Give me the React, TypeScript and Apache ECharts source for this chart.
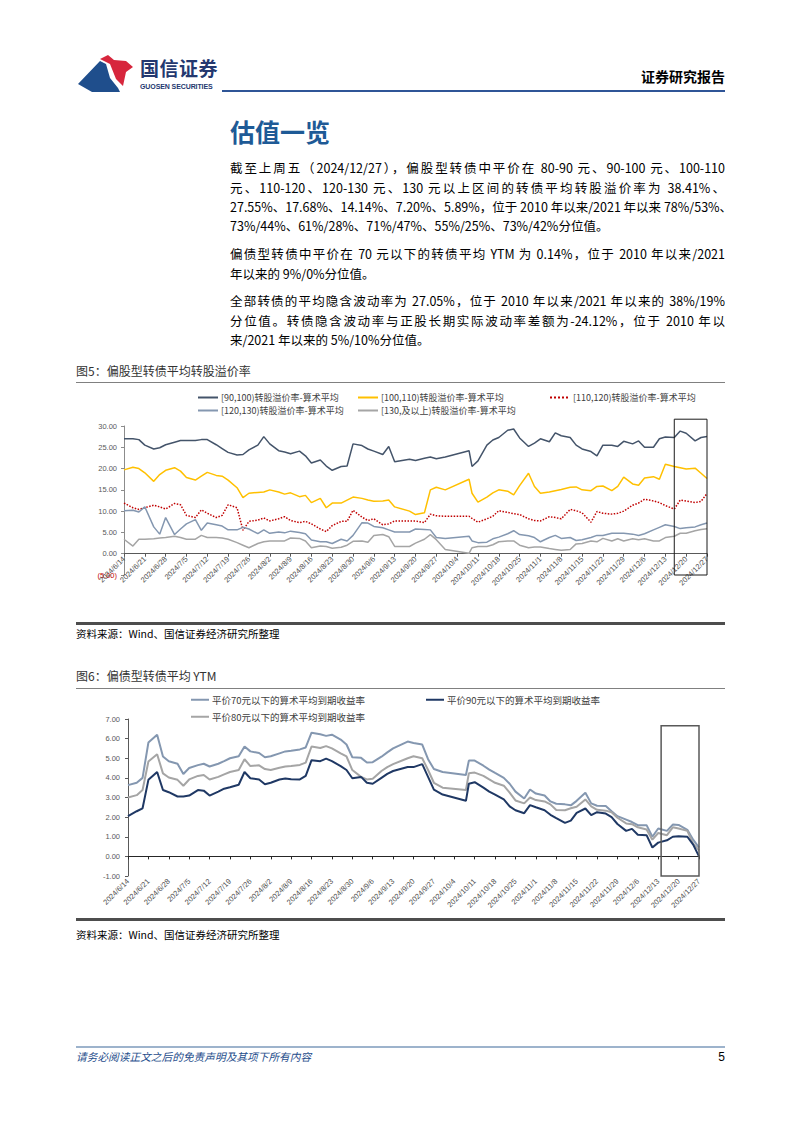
import React, { useEffect, useRef } from "react";
import * as echarts from "echarts";

// ---------- DATA ----------
const sampleDates = [
  "2024/6/14", "2024/6/17", "2024/6/19", "2024/6/21", "2024/6/24", "2024/6/26", "2024/6/28",
  "2024/7/1", "2024/7/3", "2024/7/5", "2024/7/8", "2024/7/10", "2024/7/12", "2024/7/15",
  "2024/7/17", "2024/7/19", "2024/7/22", "2024/7/24", "2024/7/26", "2024/7/29", "2024/7/31",
  "2024/8/2", "2024/8/5", "2024/8/7", "2024/8/9", "2024/8/12", "2024/8/14", "2024/8/16",
  "2024/8/19", "2024/8/21", "2024/8/23", "2024/8/26", "2024/8/28", "2024/8/30", "2024/9/2",
  "2024/9/4", "2024/9/6", "2024/9/9", "2024/9/11", "2024/9/13", "2024/9/18", "2024/9/20",
  "2024/9/23", "2024/9/25", "2024/9/27", "2024/9/30", "2024/10/8", "2024/10/9", "2024/10/11",
  "2024/10/14", "2024/10/16", "2024/10/18", "2024/10/21", "2024/10/23", "2024/10/25", "2024/10/28",
  "2024/10/30", "2024/11/1", "2024/11/4", "2024/11/6", "2024/11/8", "2024/11/11", "2024/11/13",
  "2024/11/15", "2024/11/18", "2024/11/20", "2024/11/22", "2024/11/25", "2024/11/27", "2024/11/29",
  "2024/12/2", "2024/12/4", "2024/12/6", "2024/12/9", "2024/12/11", "2024/12/13", "2024/12/16",
  "2024/12/18", "2024/12/20", "2024/12/23", "2024/12/25", "2024/12/27",
];

const prem90to100 = [
  27.0, 27.0, 26.8, 25.5, 24.6, 24.9, 25.6, 26.2, 26.6, 26.6,
  26.6, 26.8, 26.8, 25.6, 24.7, 23.8, 23.2, 23.3, 24.4, 25.5,
  27.5, 25.8, 24.2, 23.9, 23.5, 24.1, 23.0, 21.3, 22.0, 20.6,
  19.6, 20.5, 20.6, 25.8, 25.4, 24.6, 24.1, 23.3, 25.2, 21.6,
  22.2, 21.9, 22.4, 22.7, 22.3, 22.7, 24.2, 20.5, 21.8, 25.5,
  26.7, 27.3, 29.0, 29.3, 27.2, 25.2, 26.0, 27.0, 26.3, 28.4,
  27.7, 27.3, 25.5, 24.6, 24.0, 23.0, 25.5, 25.5, 25.2, 26.4,
  25.8, 26.5, 25.0, 25.0, 27.0, 27.4, 27.3, 28.8, 28.3, 26.5,
  27.3, 27.55,
];
const prem100to110 = [
  19.7, 20.3, 20.0, 19.0, 17.0, 18.6, 19.6, 20.2, 19.4, 17.9,
  17.3, 18.2, 19.1, 18.4, 18.2, 17.3, 15.5, 13.2, 14.2, 14.4,
  14.5, 15.0, 14.5, 14.0, 14.3, 13.4, 13.7, 12.0, 13.0, 10.8,
  11.9, 11.9, 12.6, 13.3, 13.0, 12.6, 12.3, 12.4, 12.6, 11.0,
  10.0, 9.2, 9.6, 15.0, 15.6, 15.0, 17.5, 14.2, 12.1, 13.3,
  14.3, 15.0, 14.7, 13.8, 16.0, 18.9, 15.8, 14.2, 14.5, 14.8,
  15.1, 15.6, 15.7, 15.0, 14.8, 15.8, 15.9, 14.8, 15.8, 18.0,
  16.4, 16.1, 17.8, 18.1, 17.5, 21.0, 20.5, 20.2, 19.9, 20.1,
  18.9, 17.68,
];
const prem110to120 = [
  11.9, 10.8, 10.4, 10.8, 11.4, 11.0, 10.5, 11.8, 11.5, 9.0,
  8.5, 10.3, 9.5, 8.5, 9.0, 11.5, 10.8, 5.5, 7.6, 7.9,
  8.4, 7.7, 8.2, 8.7, 7.8, 7.3, 7.6, 7.0, 5.8, 5.2,
  6.6, 7.6, 7.6, 10.2, 8.6, 7.8, 8.2, 6.8, 7.0, 7.7,
  7.7, 7.7, 7.3, 9.3, 8.9, 8.8, 8.8, 8.3, 7.4, 8.2,
  8.8, 10.1, 9.7, 9.4, 9.2, 8.2, 7.8, 7.7, 8.7, 8.5,
  8.2, 10.4, 10.1, 9.6, 7.4, 9.9, 9.5, 9.3, 9.5, 10.0,
  11.4, 11.9, 12.8, 12.4, 12.0, 11.3, 10.5, 12.6, 12.4, 12.0,
  12.3, 14.14,
];
const prem120to130 = [
  10.1, 10.2, 9.8, 11.0, 6.3, 4.6, 8.5, 4.5, 5.8, 7.0,
  8.0, 5.5, 7.2, 6.8, 6.5, 5.6, 5.6, 6.2, 5.8, 4.7,
  5.6, 4.8, 5.1, 4.9, 5.3, 5.0, 4.7, 3.2, 2.8, 2.8,
  2.4, 3.4, 3.0, 4.3, 7.3, 7.2, 6.4, 6.1, 5.6, 5.1,
  5.1, 5.8, 5.7, 5.6, 3.8, 3.6, 4.1, 3.0, 2.6, 2.7,
  3.5, 3.9, 4.7, 5.4, 4.5, 4.2, 3.8, 2.8, 3.8, 4.3,
  3.6, 3.8, 3.1, 3.3, 3.8, 4.3, 4.3, 4.8, 4.8, 4.8,
  4.6, 4.3, 4.7, 5.6, 6.2, 6.8, 6.4, 5.9, 6.1, 6.3,
  6.8, 7.2,
];
const prem130plus = [
  3.4, 1.8, 3.4, 3.4, 3.5, 3.7, 3.8, 4.1, 3.8, 3.4,
  3.4, 4.3, 3.8, 3.8, 3.7, 3.4, 2.6, 2.0, 1.4, 2.4,
  2.8, 3.0, 3.0, 3.0, 3.7, 3.6, 3.0, 1.4, 1.8, 1.7,
  1.3, 1.5, 2.0, 2.9, 3.0, 2.7, 4.3, 4.5, 4.0, 1.7,
  1.7, 2.5, 3.4, 4.5, 3.3, 1.0, 0.1, 1.4, 1.7, 1.7,
  2.1, 2.8, 3.0, 3.0, 2.0, 1.4, 1.6, 1.6, 1.2, 1.0,
  0.8, 1.0, 2.3, 2.4, 3.0, 2.8, 3.6, 3.0, 3.5, 3.0,
  3.5, 3.3, 3.5, 3.0, 3.0, 3.8, 4.1, 4.8, 4.8, 5.4,
  5.7, 5.89,
];

const ytmBelow70 = [
  3.63, 3.75, 4.0, 5.8, 6.2, 5.09, 4.85, 4.72, 4.2, 4.5,
  4.65, 4.72, 4.58, 4.72, 4.85, 5.0, 5.1, 5.6, 5.35, 5.27,
  5.05, 5.1, 5.25, 5.35, 5.38, 5.45, 5.55, 6.3, 6.22, 6.14,
  6.2, 5.95, 5.7, 5.05, 5.02, 4.78, 4.8, 5.08, 5.3, 5.5,
  5.85, 5.78, 5.7, 4.95, 4.45, 4.3, 4.15, 4.88, 4.88, 4.62,
  4.42, 4.25, 4.0, 3.7, 3.3, 2.95, 3.41, 3.2, 3.1, 2.8,
  2.68, 2.65, 2.6, 2.83, 3.24, 2.7, 2.58, 2.57, 2.3, 2.05,
  1.87, 1.75, 1.59, 1.59, 1.0, 1.42, 1.3, 1.62, 1.6, 1.35,
  0.85, 0.45,
];
const ytmBelow80 = [
  3.0, 3.12, 3.38, 4.83, 5.2, 4.23, 4.02, 3.9, 3.6, 3.92,
  4.1, 4.15, 3.92, 4.05, 4.18, 4.3, 4.4, 4.95, 4.6, 4.64,
  4.45, 4.4, 4.52, 4.58, 4.6, 4.66, 4.78, 5.6, 5.52, 5.62,
  5.5, 5.25, 5.09, 4.4, 4.05, 3.92, 3.95, 4.35, 4.55, 4.7,
  5.0, 5.1, 5.0, 4.4, 3.75, 3.5, 3.38, 4.23, 4.27, 4.1,
  3.92, 3.75, 3.6, 3.25, 2.85, 2.7, 3.0, 2.87, 2.8, 2.65,
  2.36, 2.35, 2.45, 2.53, 2.9, 2.55, 2.37, 2.33, 2.25, 1.97,
  1.68, 1.64, 1.48, 1.37, 0.85, 1.19, 1.08, 1.48, 1.42, 1.3,
  0.65, 0.31,
];
const ytmBelow90 = [
  2.05, 2.3, 2.45, 3.9, 4.3, 3.38, 3.27, 3.05, 3.05, 3.1,
  3.38, 3.35, 3.1, 3.3, 3.45, 3.52, 3.65, 4.3, 3.98, 3.92,
  3.68, 3.75, 3.92, 3.97, 3.93, 3.92, 4.1, 4.9, 4.85, 4.98,
  4.85, 4.6, 4.4, 3.98, 4.05, 3.75, 3.7, 4.0, 4.2, 4.35,
  4.55, 4.55, 4.7, 4.05, 3.4, 3.15, 2.83, 3.7, 3.78, 3.5,
  3.3, 3.15, 2.9, 2.55, 2.35, 2.2, 2.61, 2.5, 2.35, 2.12,
  1.95, 1.71, 1.82, 2.22, 2.44, 2.1, 2.25, 2.18, 2.0, 1.65,
  1.3, 1.4, 1.1, 1.08, 0.45, 0.7, 0.82, 1.0, 1.03, 1.0,
  0.6, 0.0,
];

const premNames = [
  "[90,100)转股溢价率-算术平均",
  "[100,110)转股溢价率-算术平均",
  "[110,120)转股溢价率-算术平均",
  "[120,130)转股溢价率-算术平均",
  "[130,及以上)转股溢价率-算术平均",
];
const ytmNames = [
  "平价70元以下的算术平均到期收益率",
  "平价90元以下的算术平均到期收益率",
  "平价80元以下的算术平均到期收益率",
];

const premAxis = { min: -5, max: 30, interval: 5 };
const ytmAxis = { min: -1, max: 7, interval: 1 };

// highlighted windows (annotation boxes)
const premBox = { from: "2024/12/16", to: "2024/12/27", low: -5, high: 31.6 };
const ytmBox = { from: "2024/12/14", to: "2024/12/27", low: -1, high: 6.65 };

// ---------- HELPERS ----------
const fmtDate = (d: Date) => `${d.getFullYear()}/${d.getMonth() + 1}/${d.getDate()}`;
const parseDate = (s: string) => {
  const [y, m, d] = s.split("/").map(Number);
  return new Date(y, m - 1, d);
};
function buildCalendar(): string[] {
  const start = parseDate(sampleDates[0]);
  const end = parseDate(sampleDates[sampleDates.length - 1]);
  const out: string[] = [];
  for (let t = new Date(start); t <= end; t.setDate(t.getDate() + 1)) out.push(fmtDate(t));
  return out;
}
const calendarDays = buildCalendar();
function onCalendar(values: number[]) {
  const arr: (number | null)[] = calendarDays.map(() => null);
  sampleDates.forEach((s, i) => {
    arr[calendarDays.indexOf(s)] = values[i];
  });
  return arr;
}

const LATIN = "'Liberation Sans', Arial, sans-serif";
const CJK = "'Noto Sans CJK SC', 'Noto Sans', sans-serif";

function lineSeries(name: string, values: number[], color: string, width: number, type: string = "solid", xAxisIndex = 0) {
  return {
    name,
    type: "line",
    xAxisIndex,
    data: onCalendar(values),
    connectNulls: true,
    symbol: "none",
    showSymbol: false,
    silent: true,
    lineStyle: { color, width, type },
    itemStyle: { color },
  };
}

function legendAt(name: string, left: number, top: number, fontSize: number, itemWidth: number) {
  return {
    data: [name],
    left,
    top,
    padding: 0,
    itemWidth,
    itemHeight: 8,
    selectedMode: false,
    itemStyle: { opacity: 0 },
    textStyle: { fontSize, color: "#404040", fontFamily: CJK, padding: [0, 0, 0, -2] },
  };
}

// ---------- OPTIONS ----------
const premColors = ["#44546a", "#ffc000", "#c00000", "#8497b0", "#a5a5a5"];
const premValues = [prem90to100, prem100to110, prem110to120, prem120to130, prem130plus];

const premOption = {
  animation: false,
  grid: { left: 48, right: 18, top: 41, bottom: 47, containLabel: false, outerBoundsMode: "none" },
  legend: [
    legendAt(premNames[0], 121, 8, 9, 20),
    legendAt(premNames[1], 281, 8, 9, 20),
    legendAt(premNames[2], 473, 8, 9, 20),
    legendAt(premNames[3], 121, 21, 9, 20),
    legendAt(premNames[4], 281, 21, 9, 20),
  ],
  xAxis: {
    type: "category",
    data: calendarDays,
    boundaryGap: false,
    position: "bottom",
    axisLine: { onZero: false, lineStyle: { color: "#595959", width: 1 } },
    axisTick: { show: true, interval: 6, length: 3, lineStyle: { color: "#595959" } },
    axisLabel: { interval: 6, rotate: 45, fontSize: 7.5, color: "#4d4d4d", margin: 4, fontFamily: LATIN },
    splitLine: { show: false },
  },
  yAxis: {
    type: "value",
    ...premAxis,
    axisLine: { show: true, lineStyle: { color: "#8c8c8c" } },
    axisTick: { show: true, length: 3, lineStyle: { color: "#8c8c8c" } },
    axisLabel: {
      fontSize: 7.5,
      margin: 7,
      fontFamily: LATIN,
      formatter: (v: number) => (v < 0 ? `(${Math.abs(v).toFixed(2)})` : v.toFixed(2)),
      color: (v: any) => (Number(v) < 0 ? "#c00000" : "#595959"),
    },
    splitLine: { show: false },
  },
  series: premValues.map((vals, i) =>
    lineSeries(premNames[i], vals, premColors[i], 1.5, i === 2 ? "dotted" : "solid")
  ),
};

const ytmOption = {
  animation: false,
  grid: { left: 52, right: 26, top: 29, bottom: 42, containLabel: false, outerBoundsMode: "none" },
  legend: [
    legendAt(ytmNames[0], 114, 5, 9.5, 18),
    legendAt(ytmNames[1], 349, 5, 9.5, 18),
    legendAt(ytmNames[2], 114, 22, 9.5, 18),
  ],
  xAxis: [
    {
      type: "category",
      data: calendarDays,
      boundaryGap: false,
      position: "bottom",
      axisLine: { show: false, onZero: false },
      axisTick: { show: false },
      axisLabel: { interval: 6, rotate: 45, fontSize: 7.5, color: "#4d4d4d", margin: 4, fontFamily: LATIN },
      splitLine: { show: false },
    },
    {
      type: "category",
      data: calendarDays,
      boundaryGap: false,
      position: "bottom",
      axisLine: { show: true, onZero: true, onZeroAxisIndex: 0, lineStyle: { color: "#262626", width: 1.2 } },
      axisTick: { show: true, interval: 6, length: 3, lineStyle: { color: "#262626" } },
      axisLabel: { show: false },
      splitLine: { show: false },
    },
  ],
  yAxis: {
    type: "value",
    ...ytmAxis,
    axisLine: { show: true, lineStyle: { color: "#595959" } },
    axisTick: { show: true, length: 3, lineStyle: { color: "#595959" } },
    axisLabel: {
      fontSize: 7.5,
      margin: 8,
      fontFamily: LATIN,
      color: "#595959",
      formatter: (v: number) => v.toFixed(2),
    },
    splitLine: { show: false },
  },
  series: [
    lineSeries(ytmNames[0], ytmBelow70, "#8497b0", 2),
    lineSeries(ytmNames[2], ytmBelow80, "#a5a5a5", 2),
    lineSeries(ytmNames[1], ytmBelow90, "#1f3864", 2),
  ],
};

// ---------- COMPONENTS ----------
type Box = { from: string; to: string; low: number; high: number };

function EChart({
  option,
  style,
  box,
  stroke,
  strokeWidth,
  axisAtZero,
}: {
  option: any;
  style: React.CSSProperties;
  box: Box;
  stroke: string;
  strokeWidth: number;
  axisAtZero?: boolean;
}) {
  const ref = useRef<HTMLDivElement>(null);
  useEffect(() => {
    const chart = echarts.init(ref.current!, undefined, { renderer: "svg" });
    chart.setOption(option);
    const extra: any = {};
    if (axisAtZero) {
      const yZero = chart.convertToPixel({ seriesIndex: 0 }, [0, 0]) as number[];
      const yMin = chart.convertToPixel({ seriesIndex: 0 }, [0, option.yAxis.min]) as number[];
      if (yZero && yMin) extra.xAxis = { offset: yZero[1] - yMin[1] };
    }
    const i1 = calendarDays.indexOf(box.from);
    const i2 = calendarDays.indexOf(box.to);
    const p1 = chart.convertToPixel({ seriesIndex: 0 }, [i1, box.high]) as number[];
    const p2 = chart.convertToPixel({ seriesIndex: 0 }, [i2, box.low]) as number[];
    if (p1 && p2) {
      extra.graphic = [
        {
          type: "rect",
          silent: true,
          z: 100,
          shape: { x: p1[0], y: p1[1], width: p2[0] - p1[0], height: p2[1] - p1[1] },
          style: { fill: "none", stroke, lineWidth: strokeWidth },
        },
      ];
    }
    chart.setOption(extra);
    return () => chart.dispose();
  }, []);
  return <div ref={ref} style={style} />;
}

const abs = (left: number, top: number, extra: React.CSSProperties = {}): React.CSSProperties => ({
  position: "absolute",
  left,
  top,
  ...extra,
});

const bodyFont: React.CSSProperties = {
  fontFamily: CJK,
  fontSize: 12.5,
  color: "#000",
  whiteSpace: "nowrap",
  lineHeight: "16px",
};

function JLine({ top, text, last }: { top: number; text: string; last?: boolean }) {
  return (
    <div
      style={abs(230, top, {
        ...bodyFont,
        width: 495,
        textAlign: last ? "left" : "justify",
        textAlignLast: last ? "left" : "justify",
      })}
    >
      {text}
    </div>
  );
}

const para1 = [
  "截至上周五（2024/12/27），偏股型转债中平价在 80-90 元、90-100 元、100-110",
  "元、110-120、120-130 元、130 元以上区间的转债平均转股溢价率为 38.41%、",
  "27.55%、17.68%、14.14%、7.20%、5.89%，位于 2010 年以来/2021 年以来 78%/53%、",
  "73%/44%、61%/28%、71%/47%、55%/25%、73%/42%分位值。",
];
const para2 = [
  "偏债型转债中平价在 70 元以下的转债平均 YTM 为 0.14%，位于 2010 年以来/2021",
  "年以来的 9%/0%分位值。",
];
const para3 = [
  "全部转债的平均隐含波动率为 27.05%，位于 2010 年以来/2021 年以来的 38%/19%",
  "分位值。转债隐含波动率与正股长期实际波动率差额为-24.12%，位于 2010 年以",
  "来/2021 年以来的 5%/10%分位值。",
];

export default function App() {
  const p1Tops = [160, 179.5, 199, 218];
  const p2Tops = [246, 265.5];
  const p3Tops = [293, 312.5, 332];
  return (
    <div style={{ position: "absolute", left: 0, top: 0, width: 802, height: 1133, background: "#fff", overflow: "hidden" }}>
      {/* header */}
      <svg style={abs(70, 50)} width={70} height={46} viewBox="0 0 70 46">
        <polygon points="8,34 30,11 36,14 40,28 48,38 50,42 22,42" fill="#1f4e8c" />
        <polygon points="30,9 38,5 44,10 56,11 63,17 56,22 53,36 46,29 40,14" fill="#d7263d" />
      </svg>
      <div style={abs(140, 57, { fontFamily: CJK, fontSize: 19, fontWeight: 700, color: "#24386f", letterSpacing: 0.5, lineHeight: "22px" })}>国信证券</div>
      <div style={abs(140, 82, { fontFamily: LATIN, fontSize: 7, fontWeight: 700, color: "#24386f", lineHeight: "9px", letterSpacing: -0.1 })}>GUOSEN SECURITIES</div>
      <div style={abs(625, 67, { width: 100, textAlign: "right", fontFamily: CJK, fontSize: 14, fontWeight: 700, color: "#000", lineHeight: "18px" })}>证券研究报告</div>
      <div style={abs(222, 89.5, { width: 503, height: 2.5, background: "#2f5597" })} />

      {/* title & text */}
      <div style={abs(230, 116, { fontFamily: CJK, fontSize: 25, fontWeight: 700, color: "#1e5a96", lineHeight: "30px" })}>估值一览</div>
      {para1.map((t, i) => (
        <JLine key={"a" + i} top={p1Tops[i]} text={t} last={i === para1.length - 1} />
      ))}
      {para2.map((t, i) => (
        <JLine key={"b" + i} top={p2Tops[i]} text={t} last={i === para2.length - 1} />
      ))}
      {para3.map((t, i) => (
        <JLine key={"c" + i} top={p3Tops[i]} text={t} last={i === para3.length - 1} />
      ))}

      {/* figure 5 */}
      <div style={abs(76, 363, { fontFamily: CJK, fontSize: 12, color: "#333", lineHeight: "16px" })}>图5：偏股型转债平均转股溢价率</div>
      <div style={abs(76, 382, { width: 649, height: 1, background: "#808080" })} />
      <EChart
        option={premOption}
        style={abs(76, 385, { width: 649, height: 237 })}
        box={premBox}
        stroke="#1a1a1a"
        strokeWidth={1}
        axisAtZero
      />
      <div style={abs(76, 622, { width: 649, height: 2.5, background: "#4d4d4d" })} />
      <div style={abs(76, 627, { fontFamily: CJK, fontSize: 10.5, color: "#000", lineHeight: "14px" })}>资料来源：Wind、国信证券经济研究所整理</div>

      {/* figure 6 */}
      <div style={abs(76, 668, { fontFamily: CJK, fontSize: 12, color: "#333", lineHeight: "16px" })}>图6：偏债型转债平均 YTM</div>
      <div style={abs(76, 688, { width: 649, height: 1, background: "#808080" })} />
      <EChart
        option={ytmOption}
        style={abs(76, 690, { width: 649, height: 228 })}
        box={ytmBox}
        stroke="#595959"
        strokeWidth={1.5}
      />
      <div style={abs(76, 918, { width: 649, height: 2.5, background: "#4d4d4d" })} />
      <div style={abs(76, 928, { fontFamily: CJK, fontSize: 10.5, color: "#000", lineHeight: "14px" })}>资料来源：Wind、国信证券经济研究所整理</div>

      {/* footer */}
      <div style={abs(76, 1046, { width: 649, height: 1.5, background: "#9db3cc" })} />
      <div style={abs(76, 1050, { fontFamily: CJK, fontSize: 10.7, fontStyle: "italic", color: "#1f4e8c", lineHeight: "14px" })}>请务必阅读正文之后的免责声明及其项下所有内容</div>
      <div style={abs(700, 1050, { width: 25, textAlign: "right", fontFamily: LATIN, fontSize: 12, color: "#000", lineHeight: "14px" })}>5</div>
    </div>
  );
}
